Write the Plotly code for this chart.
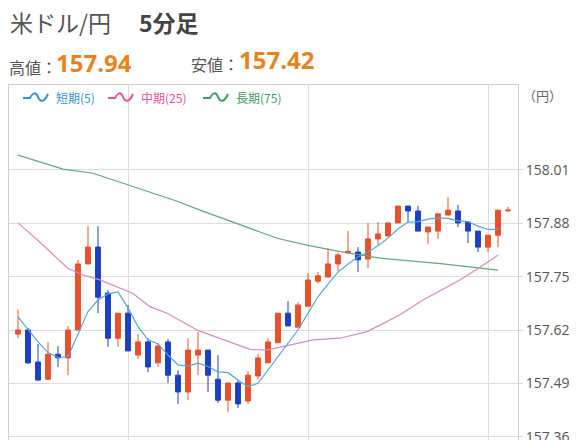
import plotly.graph_objects as go

# ---- data ----
idx = list(range(50))
opens = [157.61, 157.62, 157.542, 157.50, 157.561, 157.552, 157.62, 157.781, 157.822, 157.71,
         157.60, 157.661, 157.559, 157.591, 157.54, 157.591, 157.51, 157.469, 157.559, 157.571,
         157.50, 157.449, 157.491, 157.447, 157.508, 157.54, 157.589, 157.661, 157.627, 157.678,
         157.739, 157.749, 157.781, 157.808, 157.81, 157.793, 157.842, 157.849, 157.881, 157.922,
         157.91, 157.859, 157.861, 157.90, 157.91, 157.883, 157.861, 157.822, 157.851, 157.91]
highs = [157.67, 157.625, 157.586, 157.59, 157.581, 157.63, 157.791, 157.873, 157.873, 157.717,
         157.661, 157.681, 157.61, 157.60, 157.589, 157.598, 157.522, 157.60, 157.615, 157.571,
         157.559, 157.491, 157.498, 157.52, 157.561, 157.60, 157.661, 157.69, 157.688, 157.759,
         157.761, 157.82, 157.808, 157.861, 157.822, 157.881, 157.883, 157.881, 157.922, 157.922,
         157.922, 157.871, 157.903, 157.944, 157.925, 157.883, 157.861, 157.851, 157.912, 157.92]
lows = [157.60, 157.537, 157.497, 157.498, 157.53, 157.51, 157.62, 157.781, 157.661, 157.579,
        157.579, 157.569, 157.55, 157.517, 157.53, 157.491, 157.44, 157.449, 157.51, 157.469,
        157.442, 157.42, 157.43, 157.44, 157.50, 157.54, 157.589, 157.63, 157.627, 157.678,
        157.734, 157.749, 157.764, 157.808, 157.761, 157.771, 157.827, 157.849, 157.881, 157.883,
        157.861, 157.83, 157.842, 157.90, 157.871, 157.832, 157.81, 157.81, 157.822, 157.91]
closes = [157.62, 157.54, 157.498, 157.561, 157.552, 157.62, 157.781, 157.822, 157.70, 157.60,
          157.661, 157.569, 157.591, 157.53, 157.581, 157.51, 157.469, 157.571, 157.571, 157.51,
          157.449, 157.491, 157.44, 157.51, 157.552, 157.591, 157.661, 157.63, 157.681, 157.742,
          157.752, 157.781, 157.803, 157.812, 157.791, 157.842, 157.854, 157.881, 157.922, 157.91,
          157.861, 157.871, 157.903, 157.912, 157.881, 157.861, 157.822, 157.851, 157.912, 157.912]

ma5 = [157.652, 157.620, 157.591, 157.565, 157.553, 157.555, 157.612, 157.665, 157.693, 157.708,
       157.713, 157.674, 157.628, 157.596, 157.586, 157.559, 157.535, 157.532, 157.539, 157.531,
       157.518, 157.516, 157.498, 157.482, 157.490, 157.522, 157.555, 157.588, 157.620, 157.661,
       157.701, 157.732, 157.761, 157.781, 157.798, 157.810, 157.825, 157.844, 157.866, 157.883,
       157.884, 157.890, 157.893, 157.892, 157.886, 157.884, 157.873, 157.865, 157.865]
ma5_x = idx[:len(ma5)]

ma25_x = [0, 2.5, 5, 6.5, 8.2, 11.5, 13.2, 14.9, 18, 20.5, 23.2, 24.9, 27.2, 29.5, 32.2,
          34.9, 36.2, 38.2, 40.5, 44.2, 46.2, 48]
ma25 = [157.881, 157.827, 157.770, 157.754, 157.742, 157.709, 157.677, 157.661, 157.619, 157.596,
        157.573, 157.571, 157.583, 157.596, 157.600, 157.616, 157.632, 157.657, 157.693, 157.742,
        157.773, 157.802]

ma75_x = [0, 4.5, 7.5, 11, 16, 18.2, 21, 22.2, 26, 28.9, 32.2, 36.2, 42.5, 48]
ma75 = [158.046, 158.012, 158.002, 157.973, 157.933, 157.912, 157.887, 157.876, 157.843, 157.827,
        157.811, 157.795, 157.781, 157.766]

ytick_vals = [158.01, 157.88, 157.75, 157.62, 157.49, 157.36]
ytick_text = ["158.01", "157.88", "157.75", "157.62", "157.49", "157.36"]
xgrid = [11, 29, 47]

title_main = "米ドル/円"
title_sub = "5分足"
high_label, high_value = "高値：", "157.94"
low_label, low_value = "安値：", "157.42"
legend_items = [("短期(5)", "#2f93d3"), ("中期(25)", "#e0529c"), ("長期(75)", "#3f9a66")]
unit_label = "（円）"

# ---- styles ----
W, H = 576, 440
ML, MR, MT, MB = 9, 58, 85, 0
PW, PH = W - ML - MR, H - MT - MB
JP = "Noto Sans CJK JP"
ORANGE = "#e8821e"
RED = "#e8502a"
BLUE = "#1c3fc4"
GRID = "#dcdcdc"
MA_COLORS = ["#4fa9d6", "#d28cc6", "#62a97c"]


def px(x, y):
    return (x - ML) / PW, (H - MB - y) / PH


fig = go.Figure()
fig.add_trace(go.Candlestick(
    x=idx, open=opens, high=highs, low=lows, close=closes,
    increasing=dict(line=dict(color=RED, width=1), fillcolor=RED),
    decreasing=dict(line=dict(color=BLUE, width=1), fillcolor=BLUE),
    showlegend=False, hoverinfo="skip"))
fig.add_trace(go.Scatter(x=ma75_x, y=ma75, mode="lines", line=dict(color=MA_COLORS[2], width=1.2),
                         showlegend=False, hoverinfo="skip"))
fig.add_trace(go.Scatter(x=ma25_x, y=ma25, mode="lines", line=dict(color=MA_COLORS[1], width=1.2),
                         showlegend=False, hoverinfo="skip"))
fig.add_trace(go.Scatter(x=ma5_x, y=ma5, mode="lines", line=dict(color=MA_COLORS[0], width=1.2),
                         showlegend=False, hoverinfo="skip"))

ann = []
shapes = []


def text(x, y, t, size, color, bold=False, family=JP, anchor="left"):
    xx, yy = px(x, y)
    if bold:
        t = "<b>" + t + "</b>"
    ann.append(dict(x=xx, y=yy, xref="paper", yref="paper", text=t, showarrow=False,
                    xanchor=anchor, yanchor="middle", font=dict(size=size, color=color, family=family)))


def wave_icon(x0, y0, color):
    # legend glyph: short dash followed by a wave (pixel offsets)
    cmds = [("M", [(0, 0)]), ("L", [(7, 0)]), ("C", [(10, -6), (13, -6), (15, -1)]),
            ("C", [(17, 4), (21, 5), (25, -4)])]
    parts = []
    for c, pts in cmds:
        coords = " ".join("%.5f,%.5f" % px(x0 + dx, y0 + dy) for dx, dy in pts)
        parts.append(c + " " + coords)
    shapes.append(dict(type="path", xref="paper", yref="paper", path=" ".join(parts),
                       line=dict(color=color, width=2)))


text(8, 22, title_main, 23, "#555555")
text(137, 22, title_sub, 23, "#444444", bold=True)
text(7, 67, high_label, 16, "#555555")
text(54, 62, high_value, 24, ORANGE, bold=True, family="Open Sans")
text(189, 64, low_label, 16, "#555555")
text(237, 59, low_value, 24, ORANGE, bold=True, family="Open Sans")
text(521, 96, unit_label, 13, "#666666")

leg_x = [23, 108, 203]
for (lab, col), lx in zip(legend_items, leg_x):
    wave_icon(lx, 98, col)
    text(lx + 31, 98, lab, 12, col)

fig.update_layout(
    width=W, height=H, margin=dict(l=ML, r=MR, t=MT, b=MB),
    paper_bgcolor="white", plot_bgcolor="white",
    annotations=ann, shapes=shapes, showlegend=False,
    xaxis=dict(range=[-0.9, 50.0], rangeslider=dict(visible=False), tickvals=xgrid,
               showticklabels=False, showgrid=True, gridcolor=GRID, gridwidth=1, zeroline=False,
               showline=True, linecolor="#cfcfcf", mirror=True, fixedrange=True),
    yaxis=dict(range=[157.352, 158.217], side="right", tickvals=ytick_vals, ticktext=ytick_text,
               showgrid=True, gridcolor=GRID, gridwidth=1, zeroline=False,
               showline=True, linecolor="#cfcfcf", mirror=True,
               ticks="outside", ticklen=4, tickcolor=GRID, automargin=False,
               ticklabeloverflow="allow",
               tickfont=dict(size=14, color="#555555", family="Open Sans"), fixedrange=True),
)

fig.write_html("out.html", config={"displayModeBar": False, "staticPlot": True},
               post_script="document.body.style.margin='0';document.body.style.overflow='hidden';")
